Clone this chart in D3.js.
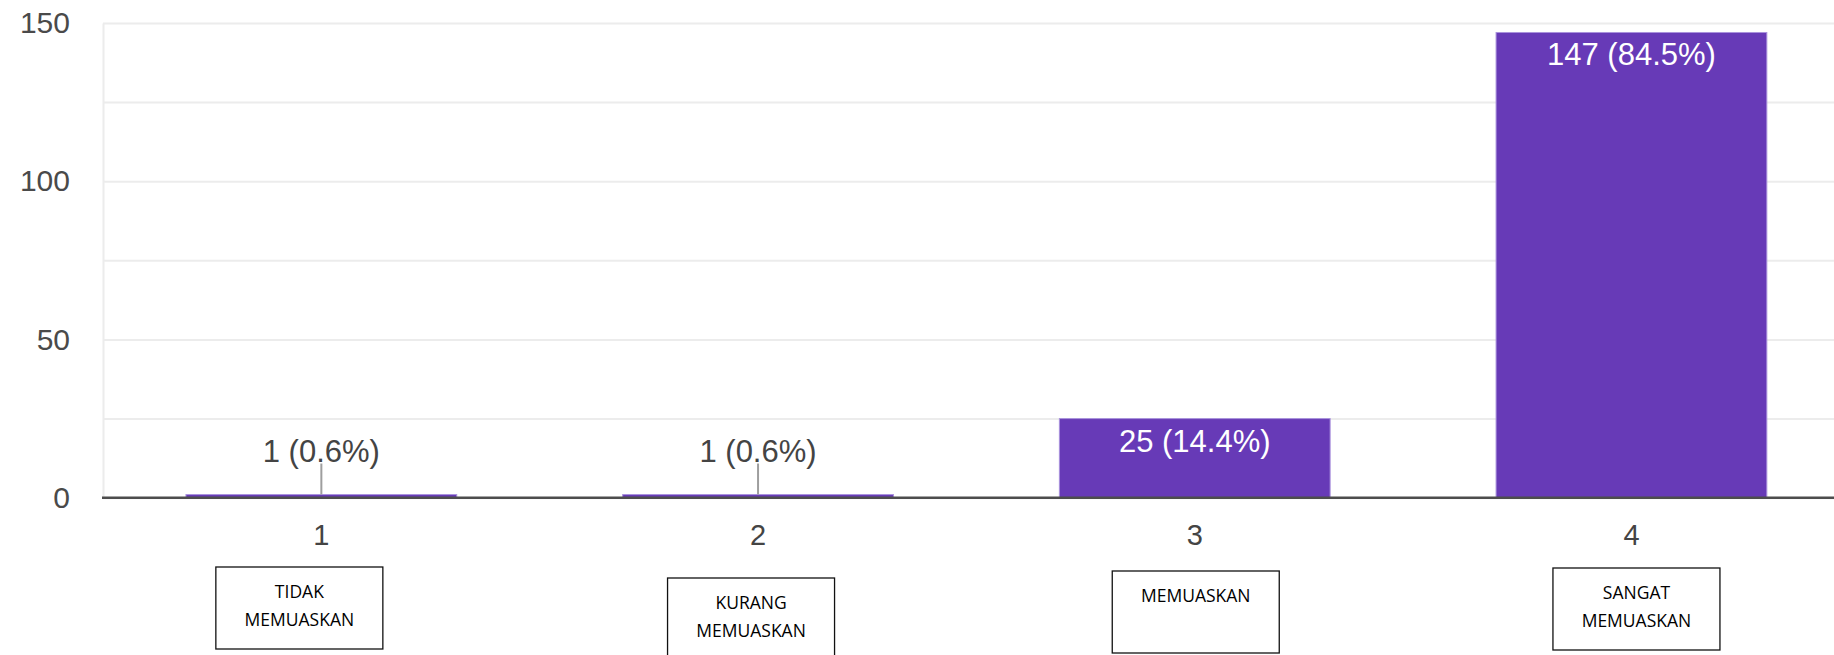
<!DOCTYPE html>
<html>
<head>
<meta charset="utf-8">
<script src="https://cdn.jsdelivr.net/npm/d3@7"></script>
<style>
  body { margin: 0; background: #fff; }
  svg { display: block; }
</style>
</head>
<body>
<div id="chart"></div>
<script>
// Data
//-------------------------------------------------------
var categories = ["1", "2", "3", "4"];
var counts = [1, 1, 25, 147];
var percents = ["0.6%", "0.6%", "14.4%", "84.5%"];
var boxLabels = [["TIDAK", "MEMUASKAN"], ["KURANG", "MEMUASKAN"], ["MEMUASKAN"], ["SANGAT", "MEMUASKAN"]];
var yTicks = [0, 50, 100, 150];
var gridTicks = [0, 25, 50, 75, 100, 125, 150];

// annotation boxes under the axis (offset from band centre, top y)
var boxLayout = [
    { dx: -22, top: 567 },
    { dx: -7, top: 578 },
    { dx: 1, top: 571 },
    { dx: 5, top: 568 }
];

// SVG setup
//-------------------------------------------------------
var svgWidth = 1834;
var svgHeight = 655;

var plotLeft = 103;
var plotTop = 23;
var plotBottom = 497.7;
var step = 436.7;

var svg = d3.select("#chart")
    .append("svg")
    .attr("width", svgWidth)
    .attr("height", svgHeight);

var xScale = d3.scaleBand()
    .domain(categories)
    .range([plotLeft, plotLeft + step * categories.length])
    .paddingInner(0.38)
    .paddingOuter(0.19);

var yScale = d3.scaleLinear()
    .domain([0, 150])
    .range([plotBottom, plotTop]);

// Gridlines
//-------------------------------------------------------
var grid = svg.append("g")
    .attr("transform", `translate(${plotLeft}, 0)`)
    .call(d3.axisLeft(yScale)
        .tickValues(gridTicks)
        .tickSize(-(svgWidth - plotLeft))
        .tickSizeOuter(0)
        .tickFormat(""));
grid.selectAll(".tick line").attr("stroke", "#ececec").attr("stroke-width", 2);
grid.select(".domain").attr("stroke", "#ececec").attr("stroke-width", 2);

// Y axis labels
//-------------------------------------------------------
var yAxis = svg.append("g")
    .attr("transform", `translate(${plotLeft - 33}, 0)`)
    .call(d3.axisLeft(yScale).tickValues(yTicks).tickSize(0).tickPadding(0));
yAxis.select(".domain").remove();
yAxis.selectAll("text")
    .attr("font-family", "Liberation Sans, Arial, sans-serif")
    .attr("font-size", 30)
    .attr("fill", "#4a4a4a");

// Bars
//-------------------------------------------------------
svg.selectAll("rect.bar")
    .data(counts)
    .enter()
    .append("rect")
    .attr("class", "bar")
    .attr("x", (d, i) => xScale(categories[i]))
    .attr("y", d => yScale(d))
    .attr("width", xScale.bandwidth())
    .attr("height", d => plotBottom - yScale(d))
    .attr("fill", "#673ab7")
    .attr("stroke", "#a992dc")
    .attr("stroke-width", 1);

// Baseline
svg.append("line")
    .attr("x1", plotLeft - 1)
    .attr("x2", svgWidth)
    .attr("y1", yScale(0))
    .attr("y2", yScale(0))
    .attr("stroke", "#4d4d4d")
    .attr("stroke-width", 2.5);

// Value labels (inside the bar when tall enough, else above with a leader)
//-------------------------------------------------------
var inside = d => plotBottom - yScale(d) > 20;

counts.forEach(function(d, i) {
    var cx = xScale(categories[i]) + xScale.bandwidth() / 2;
    var top = yScale(d);
    var label = `${d} (${percents[i]})`;
    if (inside(d)) {
        svg.append("text")
            .attr("x", cx)
            .attr("y", top + 33)
            .attr("text-anchor", "middle")
            .attr("font-family", "Liberation Sans, Arial, sans-serif")
            .attr("font-size", 31)
            .attr("fill", "#ffffff")
            .text(label);
    } else {
        svg.append("line")
            .attr("x1", cx).attr("x2", cx)
            .attr("y1", top - 31).attr("y2", top)
            .attr("stroke", "#9e9e9e")
            .attr("stroke-width", 2);
        svg.append("text")
            .attr("x", cx)
            .attr("y", top - 33)
            .attr("text-anchor", "middle")
            .attr("font-family", "Liberation Sans, Arial, sans-serif")
            .attr("font-size", 31)
            .attr("fill", "#444")
            .text(label);
    }
});

// X axis labels
//-------------------------------------------------------
var xAxis = svg.append("g")
    .attr("transform", `translate(0, ${plotBottom + 47})`)
    .call(d3.axisBottom(xScale).tickSize(0).tickPadding(0));
xAxis.select(".domain").remove();
xAxis.selectAll("text")
    .attr("dy", 0)
    .attr("font-family", "Liberation Sans, Arial, sans-serif")
    .attr("font-size", 29)
    .attr("fill", "#444");

// Annotation boxes
//-------------------------------------------------------
var boxW = 167;
var boxH = 82;

var boxes = svg.selectAll("g.box")
    .data(boxLabels)
    .enter()
    .append("g")
    .attr("class", "box")
    .attr("transform", (d, i) => {
        var cx = xScale(categories[i]) + xScale.bandwidth() / 2 + boxLayout[i].dx;
        return `translate(${cx}, ${boxLayout[i].top})`;
    });

boxes.append("rect")
    .attr("x", -boxW / 2)
    .attr("y", 0)
    .attr("width", boxW)
    .attr("height", boxH)
    .attr("fill", "#fff")
    .attr("stroke", "#111")
    .attr("stroke-width", 1.3);

boxes.selectAll("text")
    .data(d => d)
    .enter()
    .append("text")
    .attr("x", 0)
    .attr("y", (d, j) => 31 + j * 28)
    .attr("text-anchor", "middle")
    .attr("font-family", "Open Sans, Noto Sans, sans-serif")
    .attr("font-size", 17.5)
    .attr("fill", "#000")
    .text(d => d);
</script>
</body>
</html>
